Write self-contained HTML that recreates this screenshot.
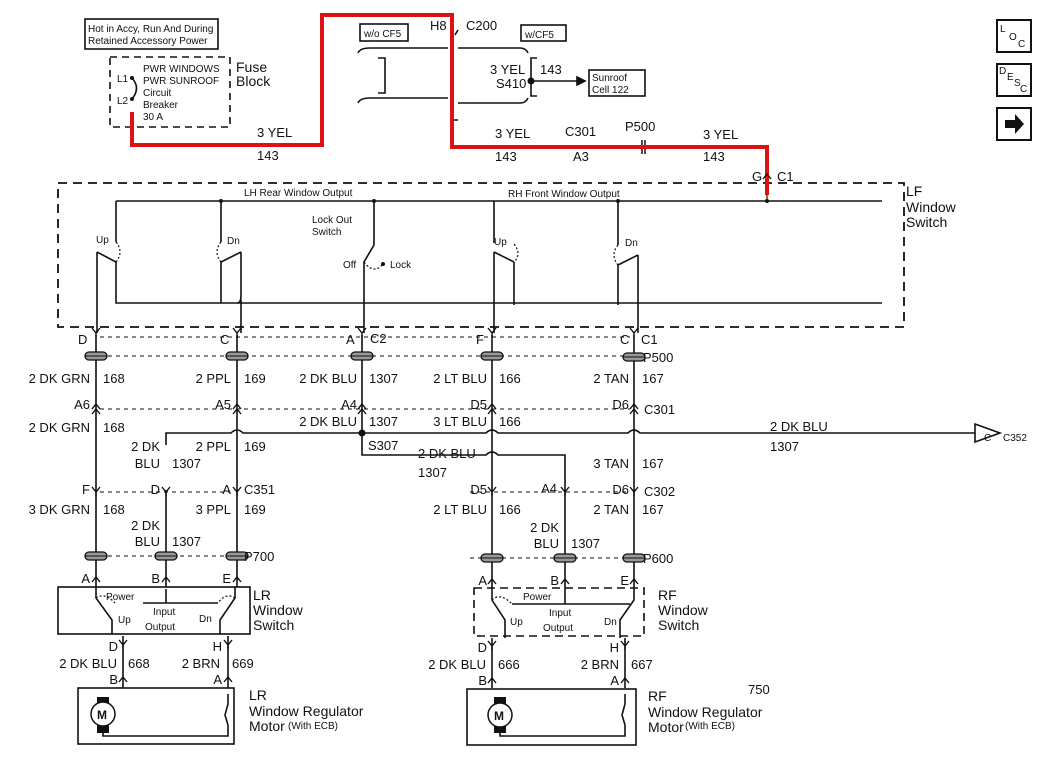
<!DOCTYPE html>
<html><head><meta charset="utf-8"><style>
html,body{margin:0;padding:0;background:#fff;}
svg{display:block;font-family:"Liberation Sans",Arial,sans-serif;}
text{fill:#111;}
.w{font-size:13px;}
.s{font-size:10px;}
.l{font-size:14px;}
</style></head><body>
<svg width="1048" height="768" viewBox="0 0 1048 768" xmlns="http://www.w3.org/2000/svg">
<defs>
<g id="yc"><path d="M-4,-5 L0,0 L4,-5 M0,0 V4" stroke="#111" stroke-width="1.4" fill="none"/></g>
<g id="ac"><path d="M-4,5 L0,0 L4,5" stroke="#111" stroke-width="1.4" fill="none"/></g>
<g id="pc"><rect x="-11" y="-4" width="22" height="8" rx="4" fill="#999" stroke="#111" stroke-width="1.3"/><line x1="-11" y1="0" x2="11" y2="0" stroke="#111"/></g>
</defs>
<g stroke="#111" stroke-width="1.6" fill="none">
<rect x="85" y="19" width="133" height="30"/>
<rect x="110" y="57" width="120" height="70" stroke-dasharray="7,5"/>
<path d="M132,78 Q141,88 132,99"/>
<rect x="360" y="24" width="48" height="17"/>
<rect x="521" y="25" width="45" height="16"/>
<path d="M358,53 Q360,48 370,48 H448 M358,103 Q360,98 370,98 H448 M458,48 H520 Q526,48 528,53 M458,103 H520 Q526,103 528,98"/>
<path d="M378,58 H385 V93 H378 M537,58 H531 V96 H537 M531,81 H577"/>
<path d="M577,77 L585,81 L577,85 Z" fill="#111"/>
<rect x="589" y="70" width="56" height="26"/>
<path d="M458,30 L455,35 M458,120 L452,120"/>
<path d="M642,140 V154" stroke-width="1.5"/><path d="M645,140 V154" stroke-width="1.5"/>
<rect x="997" y="20" width="34" height="32" stroke-width="2"/>
<rect x="997" y="64" width="34" height="32" stroke-width="2"/>
<rect x="997" y="108" width="34" height="32" stroke-width="2"/>
<rect x="58" y="183" width="846" height="144" stroke-dasharray="9,6" stroke-width="1.8"/>
<path d="M116,201 H882 M116,201 V242 M116,262 V303 H882 M97,252 L116,262 M97,252 V333"/>
<path d="M221,201 V242 M221,262 V303 M241,252 L221,262 M241,252 V296 Q241,303 237,303 M241,300 V333"/>
<path d="M374,201 V245 L364,262 V333 M362,303"/>
<path d="M494,201 V243 M514,262 V305 M494,252 L514,262 M494,252 V333"/>
<path d="M618,201 V245 M618,265 V305 M638,255 L618,265 M638,255 V333"/>
<path d="M767,201 V187" stroke-width="1.2"/>
<path d="M116,242 Q124,252 116,262 M221,242 Q213,252 221,262 M364,262 Q374,275 383,264 M514,244 Q522,254 514,262 M618,245 Q610,255 618,265" stroke-dasharray="2,2" stroke-width="1.2"/>
<path d="M100,337 H630 M100,356 H630 M100,409 H630 M100,492 H230 M470,492 H630 M100,556 H230 M470,558 H630" stroke-dasharray="4,4" stroke-width="1"/>
<path d="M96,335 V587 M237,335 V587 M362,335 V433 M492,335 V590 M634,335 V590"/>
<path d="M166,490 V587 M166,445 V433 H231 Q237,427 243,433 H486 Q492,427 498,433 H628 Q634,427 640,433 H975"/>
<path d="M362,433 V455 H486 Q492,449 498,455 H565 V590"/>
<path d="M975,424 V442 L1000,433 Z"/>
<rect x="58" y="587" width="192" height="47"/>
<path d="M96,587 V598 L112,620 V634 M235,587 V598 L220,620 V634 M143,603 H218 M166,589 V603"/>
<path d="M96,598 Q105,592 115,603 M235,598 Q226,592 218,603" stroke-dasharray="2,2" stroke-width="1.2"/>
<rect x="474" y="588" width="170" height="48" stroke-dasharray="8,5"/>
<path d="M492,590 V600 L505,620 V638 M634,590 V600 L620,620 V638 M512,604 H630 M565,590 V604"/>
<path d="M492,600 Q500,592 512,604" stroke-dasharray="2,2" stroke-width="1.2"/>
<path d="M123,636 V688 M228,636 V688 M492,638 V688 M625,638 V688"/>
<rect x="78" y="688" width="156" height="56"/>
<rect x="467" y="689" width="169" height="56"/>
<path d="M103,728 V736 H228 V725 M228,694 V704 L225,715 L228,725"/>
<path d="M500,728 V736 H625 V725 M625,694 V704 L622,715 L625,725"/>
</g>
<rect x="97" y="697" width="12" height="36" fill="#111"/>
<circle cx="103" cy="714" r="12" fill="#fff" stroke="#111" stroke-width="1.5"/>
<rect x="494" y="697" width="12" height="36" fill="#111"/>
<circle cx="500" cy="715" r="12" fill="#fff" stroke="#111" stroke-width="1.5"/>
<text x="97" y="719" font-size="12" font-weight="bold">M</text>
<text x="494" y="720" font-size="12" font-weight="bold">M</text>
<path d="M1005,120 H1015 V114 L1024,124 L1015,134 V128 H1005 Z" fill="#111"/>
<g fill="#111">
<circle cx="531" cy="81" r="3.5"/><circle cx="362" cy="433" r="3.5"/>
<circle cx="767" cy="201" r="2"/><circle cx="221" cy="201" r="2"/><circle cx="374" cy="201" r="2"/><circle cx="618" cy="201" r="2"/>
<circle cx="132" cy="78" r="2"/><circle cx="132" cy="99" r="2"/><circle cx="383" cy="264" r="2"/>
</g>
<path d="M132,112 V145 H322 V15 H452 V147 H767 V195" stroke="#d11" stroke-width="4" fill="none"/>
<g>
<use href="#yc" x="96" y="333"/><use href="#yc" x="237" y="333"/><use href="#yc" x="362" y="333"/><use href="#yc" x="492" y="333"/><use href="#yc" x="634" y="333"/>
<use href="#pc" x="96" y="356"/><use href="#pc" x="237" y="356"/><use href="#pc" x="362" y="356"/><use href="#pc" x="492" y="356"/><use href="#pc" x="634" y="357"/>
<use href="#ac" x="96" y="404"/><use href="#ac" x="237" y="404"/><use href="#ac" x="362" y="404"/><use href="#ac" x="492" y="404"/><use href="#ac" x="634" y="404"/>
<use href="#ac" x="96" y="409"/><use href="#ac" x="237" y="409"/><use href="#ac" x="362" y="409"/><use href="#ac" x="492" y="409"/><use href="#ac" x="634" y="409"/>
<use href="#yc" x="96" y="492"/><use href="#yc" x="166" y="492"/><use href="#yc" x="237" y="492"/><use href="#yc" x="492" y="492"/><use href="#yc" x="565" y="492"/><use href="#yc" x="634" y="492"/>
<use href="#pc" x="96" y="556"/><use href="#pc" x="166" y="556"/><use href="#pc" x="237" y="556"/><use href="#pc" x="492" y="558"/><use href="#pc" x="565" y="558"/><use href="#pc" x="634" y="558"/>
<use href="#ac" x="96" y="577"/><use href="#ac" x="166" y="577"/><use href="#ac" x="237" y="577"/><use href="#ac" x="492" y="579"/><use href="#ac" x="565" y="579"/><use href="#ac" x="634" y="579"/>
<use href="#yc" x="123" y="645"/><use href="#yc" x="228" y="645"/><use href="#yc" x="492" y="646"/><use href="#yc" x="625" y="646"/>
<use href="#ac" x="123" y="677"/><use href="#ac" x="228" y="677"/><use href="#ac" x="492" y="678"/><use href="#ac" x="625" y="678"/>
<use href="#ac" x="767" y="174"/>
</g>
<g class="s">
<text x="88" y="32">Hot in Accy, Run And During</text>
<text x="88" y="44">Retained Accessory Power</text>
<text x="143" y="72">PWR WINDOWS</text><text x="143" y="84">PWR SUNROOF</text>
<text x="143" y="96">Circuit</text><text x="143" y="108">Breaker</text><text x="143" y="120">30 A</text>
<text x="117" y="82">L1</text><text x="117" y="104">L2</text>
<text x="364" y="37">w/o CF5</text><text x="525" y="38">w/CF5</text>
<text x="592" y="81">Sunroof</text><text x="592" y="93">Cell 122</text>
<text x="244" y="196">LH Rear Window Output</text><text x="508" y="197">RH Front Window Output</text>
<text x="312" y="223">Lock Out</text><text x="312" y="235">Switch</text>
<text x="343" y="268">Off</text><text x="390" y="268">Lock</text>
<text x="96" y="243">Up</text><text x="227" y="244">Dn</text><text x="494" y="245">Up</text><text x="625" y="246">Dn</text>
<text x="106" y="600">Power</text><text x="153" y="615">Input</text><text x="145" y="630">Output</text>
<text x="118" y="623">Up</text><text x="199" y="622">Dn</text>
<text x="523" y="600">Power</text><text x="549" y="616">Input</text><text x="543" y="631">Output</text>
<text x="510" y="625">Up</text><text x="604" y="625">Dn</text>
<text x="984" y="441">C</text><text x="1003" y="441">C352</text>
<text x="1000" y="32">L</text><text x="1009" y="40">O</text><text x="1018" y="47">C</text>
<text x="999" y="74">D</text><text x="1007" y="80">E</text><text x="1014" y="86">S</text><text x="1020" y="92">C</text>
<text x="288" y="729">(With ECB)</text><text x="685" y="729">(With ECB)</text>
</g>
<g class="w">
<text x="236" y="72" class="l">Fuse</text><text x="236" y="86" class="l">Block</text>
<text x="257" y="137">3 YEL</text><text x="257" y="160">143</text>
<text x="430" y="30">H8</text><text x="466" y="30">C200</text>
<text x="490" y="74">3 YEL</text><text x="540" y="74">143</text><text x="496" y="88">S410</text>
<text x="495" y="138">3 YEL</text><text x="495" y="161">143</text>
<text x="565" y="136">C301</text><text x="573" y="161">A3</text>
<text x="625" y="131">P500</text>
<text x="703" y="139">3 YEL</text><text x="703" y="161">143</text>
<text x="752" y="181">G</text><text x="777" y="181">C1</text>
<text x="906" y="196" class="l">LF</text><text x="906" y="212" class="l">Window</text><text x="906" y="227" class="l">Switch</text>
<text x="78" y="344">D</text><text x="220" y="344">C</text><text x="346" y="344">A</text><text x="370" y="343">C2</text><text x="476" y="344">F</text><text x="620" y="344">C</text><text x="641" y="344">C1</text>
<text x="643" y="362">P500</text>
<g text-anchor="end">
<text x="90" y="383">2 DK GRN</text><text x="231" y="383">2 PPL</text><text x="357" y="383">2 DK BLU</text><text x="487" y="383">2 LT BLU</text><text x="629" y="383">2 TAN</text>
<text x="90" y="409">A6</text><text x="231" y="409">A5</text><text x="357" y="409">A4</text><text x="487" y="409">D5</text><text x="629" y="409">D6</text>
<text x="90" y="432">2 DK GRN</text><text x="357" y="426">2 DK BLU</text><text x="487" y="426">3 LT BLU</text>
<text x="231" y="451">2 PPL</text><text x="629" y="468">3 TAN</text>
<text x="160" y="451">2 DK</text><text x="160" y="468">BLU</text>
<text x="90" y="494">F</text><text x="160" y="494">D</text><text x="231" y="494">A</text><text x="487" y="494">D5</text><text x="557" y="493">A4</text><text x="629" y="494">D6</text>
<text x="90" y="514">3 DK GRN</text><text x="231" y="514">3 PPL</text><text x="487" y="514">2 LT BLU</text><text x="629" y="514">2 TAN</text>
<text x="160" y="530">2 DK</text><text x="160" y="546">BLU</text><text x="559" y="532">2 DK</text><text x="559" y="548">BLU</text>
<text x="90" y="583">A</text><text x="160" y="583">B</text><text x="231" y="583">E</text><text x="487" y="585">A</text><text x="559" y="585">B</text><text x="629" y="585">E</text>
<text x="118" y="651">D</text><text x="222" y="651">H</text><text x="487" y="652">D</text><text x="619" y="652">H</text>
<text x="117" y="668">2 DK BLU</text><text x="220" y="668">2 BRN</text><text x="486" y="669">2 DK BLU</text><text x="619" y="669">2 BRN</text>
<text x="118" y="684">B</text><text x="222" y="684">A</text><text x="487" y="685">B</text><text x="619" y="685">A</text>
</g>
<text x="103" y="383">168</text><text x="244" y="383">169</text><text x="369" y="383">1307</text><text x="499" y="383">166</text><text x="642" y="383">167</text>
<text x="644" y="414">C301</text>
<text x="103" y="432">168</text><text x="369" y="426">1307</text><text x="499" y="426">166</text>
<text x="244" y="451">169</text><text x="172" y="468">1307</text><text x="642" y="468">167</text>
<text x="368" y="450">S307</text><text x="418" y="458">2 DK BLU</text><text x="418" y="477">1307</text>
<text x="770" y="431">2 DK BLU</text><text x="770" y="451">1307</text>
<text x="244" y="494">C351</text><text x="644" y="496">C302</text>
<text x="103" y="514">168</text><text x="244" y="514">169</text><text x="499" y="514">166</text><text x="642" y="514">167</text>
<text x="172" y="546">1307</text><text x="571" y="548">1307</text>
<text x="244" y="561">P700</text><text x="643" y="563">P600</text>
<text x="128" y="668">668</text><text x="232" y="668">669</text><text x="498" y="669">666</text><text x="631" y="669">667</text>
<text x="253" y="600" class="l">LR</text><text x="253" y="615" class="l">Window</text><text x="253" y="630" class="l">Switch</text>
<text x="658" y="600" class="l">RF</text><text x="658" y="615" class="l">Window</text><text x="658" y="630" class="l">Switch</text>
<text x="249" y="700" class="l">LR</text><text x="249" y="716" class="l">Window Regulator</text><text x="249" y="731" class="l">Motor</text>
<text x="648" y="701" class="l">RF</text><text x="648" y="717" class="l">Window Regulator</text><text x="648" y="732" class="l">Motor</text>
<text x="748" y="694">750</text>
</g>
</svg>
</body></html>
